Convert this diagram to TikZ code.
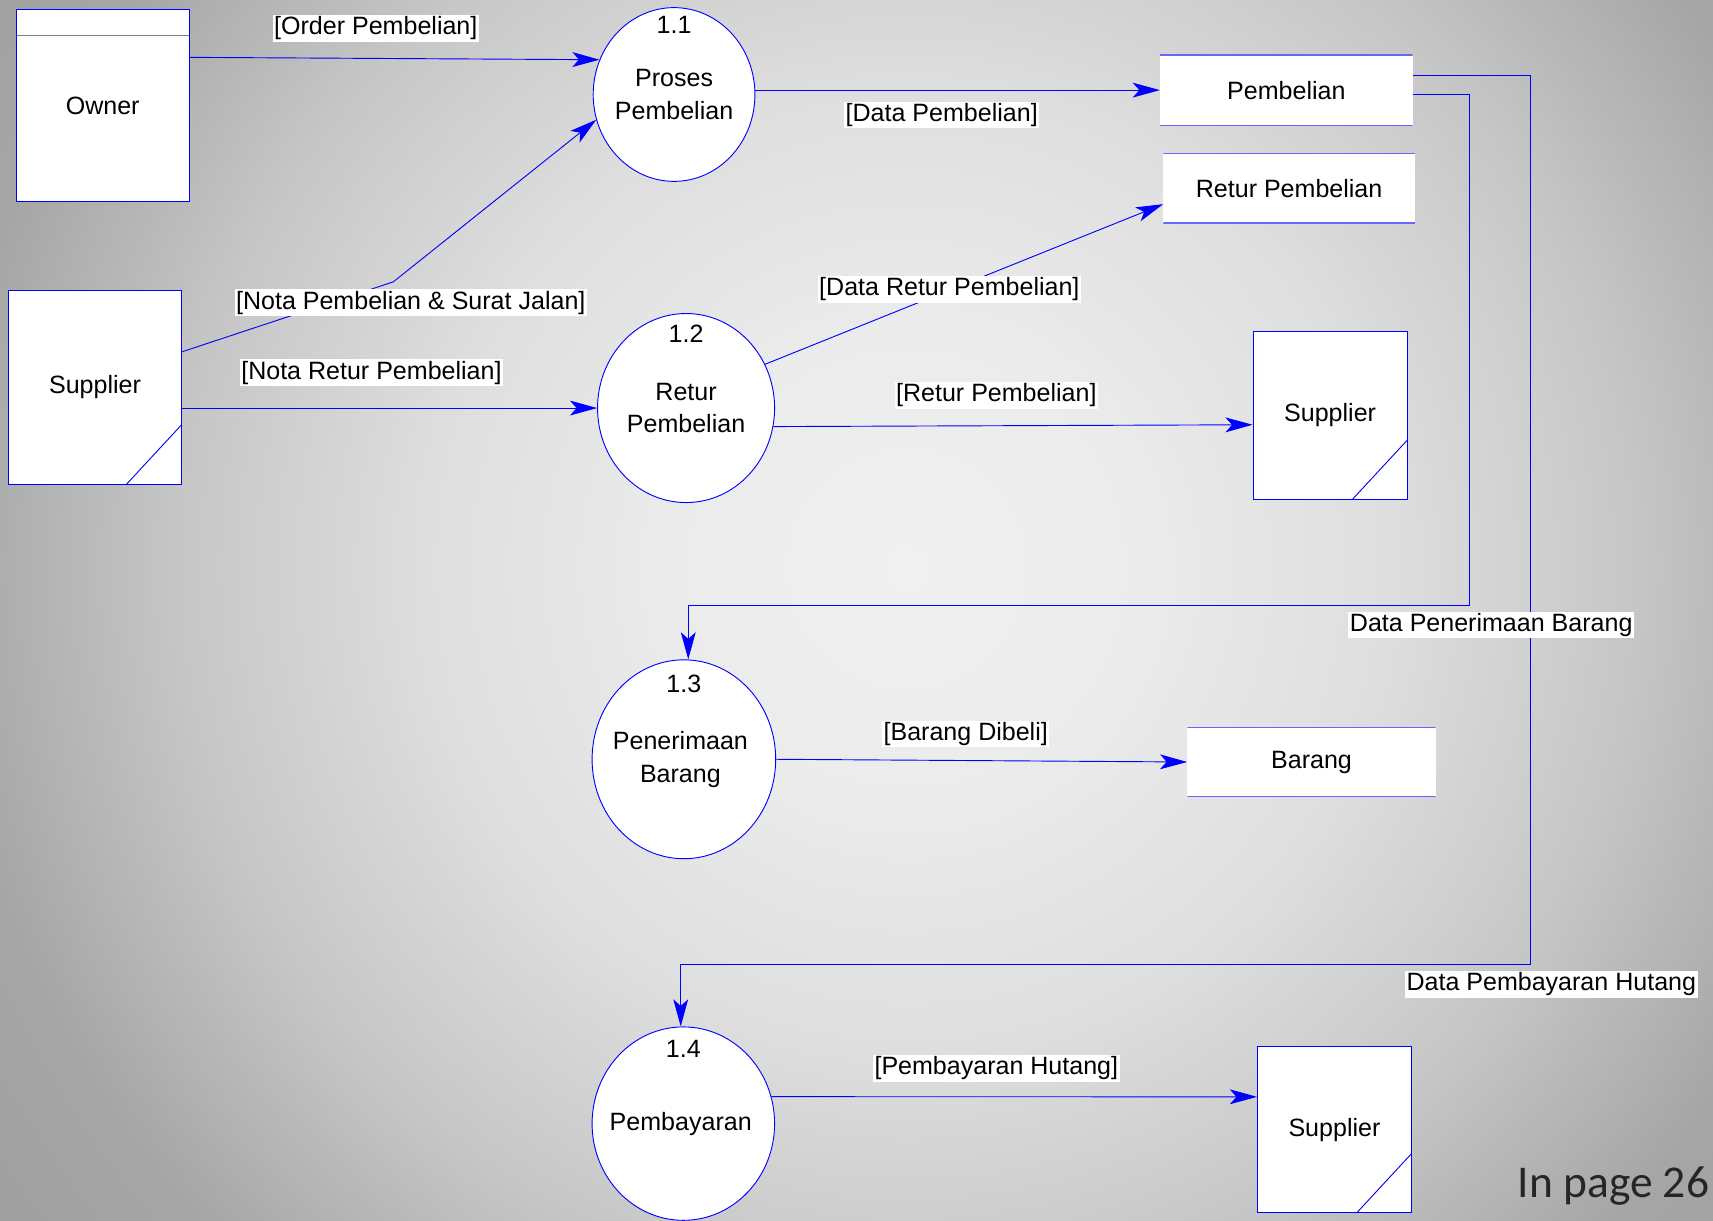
\documentclass[tikz,border=0pt]{standalone}
\usepackage{fontspec}
\setmainfont{Liberation Sans}
\newfontfamily\slidefont{Carlito}
\usetikzlibrary{shapes.geometric,arrows.meta}

\definecolor{dfdblue}{RGB}{0,0,255}
\definecolor{bga}{gray}{0.941}
\definecolor{bgb}{gray}{0.922}
\definecolor{bgc}{gray}{0.871}
\definecolor{bgd}{gray}{0.780}
\definecolor{bge}{gray}{0.651}
\definecolor{bgf}{gray}{0.608}
\pgfdeclareradialshading{slidebg}{\pgfpoint{0bp}{0bp}}{color(0bp)=(bga); color(5bp)=(bgb); color(10bp)=(bgc); color(15bp)=(bgd); color(20bp)=(bge); color(25bp)=(bgf); color(50bp)=(bgf)}

\begin{document}
\begin{tikzpicture}[x=0.025cm, y=-0.025cm, font=\fontsize{16.3}{21.3}\selectfont,
  proc/.style={ellipse, draw=dfdblue, fill=white, line width=0.6pt, inner sep=0pt},
  procname/.style={align=center, inner sep=0pt},
  procnum/.style={anchor=north, inner sep=0pt},
  entity/.style={draw=dfdblue, fill=white, line width=0.6pt, minimum width=3.95cm, minimum height=4.4cm},
  extsupplier/.style={entity, minimum width=3.525cm, minimum height=3.85cm,
    path picture={\draw[dfdblue, line width=0.6pt] ([xshift=-1.25cm]path picture bounding box.south east) -- ([yshift=1.35cm]path picture bounding box.south east);}},
  owner/.style={entity,
    path picture={\draw[gray] ([yshift=-0.6cm]path picture bounding box.north west) -- ([yshift=-0.6cm]path picture bounding box.north east);}},
  store/.style={fill=white, minimum width=5.75cm, minimum height=1.6cm,
    path picture={\draw[dfdblue!60, line width=1.2pt] (path picture bounding box.north west) -- (path picture bounding box.north east)
      (path picture bounding box.south west) -- (path picture bounding box.south east);}},
  flow/.style={draw=dfdblue, line width=0.6pt, -{Stealth[length=0.62cm, width=0.34cm, inset=0.15cm]}},
  lbl/.style={fill=white, inner sep=1pt}
]
  % background
  \useasboundingbox (0,0) rectangle (1568,1117);
  \begin{scope}
    \clip (0,0) rectangle (1568,1117);
    \shade[shading=slidebg] (830,520) circle (27.5cm);
  \end{scope}

  % external entities
  \node[owner] (owner) at (94,96.5) {Owner};
  \node[extsupplier, minimum width=3.95cm, minimum height=4.425cm] (supl) at (87,354.5) {Supplier};
  \node[extsupplier] (supr) at (1217.5,380) {Supplier};
  \node[extsupplier, minimum height=3.8cm] (supb) at (1221.5,1034) {Supplier};

  % processes
  \node[proc, minimum width=3.7cm, minimum height=3.975cm] (p11) at (617,86.5) {};
  \node[proc, minimum width=4.05cm, minimum height=4.325cm] (p12) at (628,373.5) {};
  \node[proc, minimum width=4.2cm, minimum height=4.55cm] (p13) at (626,695) {};
  \node[proc, minimum width=4.175cm, minimum height=4.425cm] (p14) at (625.5,1028.5) {};
  \node[procname] (t11) at (p11) {Proses\\Pembelian};
  \node[procname] (t12) at (p12) {Retur\\Pembelian};
  \node[procname] (t13) at ([xshift=-0.08cm]p13) {Penerimaan\\Barang};
  \node[procname] (t14) at ([xshift=-0.06cm]p14) {Pembayaran};
  \node[procnum] (n11) at ([yshift=-0.2cm]p11.north) {1.1};
  \node[procnum] (n12) at ([yshift=-0.27cm]p12.north) {1.2};
  \node[procnum] (n13) at ([yshift=-0.35cm]p13.north) {1.3};
  \node[procnum] (n14) at ([yshift=-0.3cm]p14.north) {1.4};

  % data stores
  \node[store, minimum width=5.775cm, minimum height=1.625cm] (pemb) at (1177.5,82.5) {Pembelian};
  \node[store] (returp) at (1180,172.5) {Retur Pembelian};
  \node[store, minimum width=5.675cm] (barang) at (1200.5,697.5) {Barang};

  % flows
  \coordinate (nbend) at (360,258);
  \coordinate (c13) at (1345,554);
  \coordinate (c14) at (1401,883);
  \draw[flow] ([yshift=1.1cm]owner.east) -- (p11.155);
  \draw[flow] ([yshift=0.81cm]supl.east) -- (nbend) -- (p11.198);
  \draw[flow] (supl.east |- p12.west) -- (p12.west);
  \draw[flow] (p11.east |- pemb.west) -- (pemb.west);
  \draw[flow] (p12.29) -- ([yshift=-0.36cm]returp.west);
  \draw[flow] (p12.-12) -- ([yshift=-0.22cm]supr.west);
  \draw[flow] ([yshift=-0.09cm]pemb.east) -| (c13) -| ([xshift=0.1cm]p13.north);
  \draw[flow] ([yshift=0.34cm]pemb.east) -| (c14) -| ([xshift=-0.06cm]p14.north);
  \draw[flow] (p13.east) -- (barang.west);
  \draw[flow] (p14.17) -- ([yshift=0.75cm]supb.west);

  % flow labels
  \node[lbl] (lorder) at (344,26) {[Order Pembelian]};
  \node[lbl] (lnota) at (376,277) {[Nota Pembelian \& Surat Jalan]};
  \node[lbl] (lnotaretur) at (340,341) {[Nota Retur Pembelian]};
  \node[lbl] (ldatapemb) at (862,105) {[Data Pembelian]};
  \node[lbl] (ldataretur) at (869,265) {[Data Retur Pembelian]};
  \node[lbl] (lretur) at (912,362) {[Retur Pembelian]};
  \node[lbl] (lterima) at (1365,572) {Data Penerimaan Barang};
  \node[lbl] (lbayar) at (1420,901) {Data Pembayaran Hutang};
  \node[lbl] (lbarang) at (884,672) {[Barang Dibeli]};
  \node[lbl] (lhutang) at (912,978) {[Pembayaran Hutang]};

  \node[anchor=base west, inner sep=0pt, text=black!85, font=\slidefont\fontsize{29.6}{36}\selectfont] (pageno) at (1389,1096) {In page 26};
\end{tikzpicture}
\end{document}
